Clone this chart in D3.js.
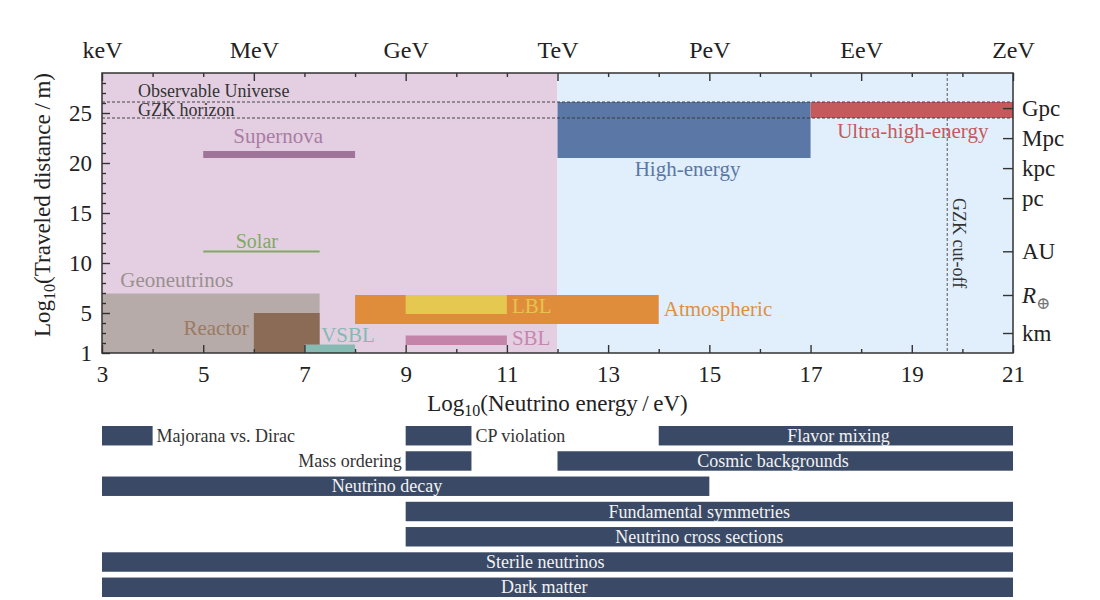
<!DOCTYPE html>
<html>
<head>
<meta charset="utf-8">
<script src="https://cdn.jsdelivr.net/npm/d3@7"></script>
<style>
  body { margin: 0; background: #fff; }
  svg text { font-family: "Liberation Serif", "DejaVu Serif", serif; }
</style>
</head>
<body>
<script>
// energy regions (log10 E/eV)
const bandEnergy = [[3, 12], [12, 21]];
const bandColor = ["#e4cfe2", "#e1effc"];

// neutrino sources: energy range (log10 eV) and distance range (log10 m)
const sourceNames = ["Geoneutrinos", "Reactor", "VSBL", "Supernova", "Atmospheric", "LBL", "SBL", "High-energy", "Ultra-high-energy"];
const sourceEmin = [3, 6, 7, 5, 8, 9, 9, 12, 17];
const sourceEmax = [7.3, 7.3, 8, 8, 14, 11, 11, 17, 21];
const sourceLmin = [1, 1, 1, 20.5, 3.9, 4.9, 1.8, 20.5, 24.5];
const sourceLmax = [6.95, 5, 1.85, 21.2, 6.8, 6.8, 2.75, 26.1, 26.1];
const sourceColor = ["#b6aba8", "#8c6b56", "#87bab3", "#9f7499", "#e08d3b", "#e5c84f", "#c484aa", "#5a77a6", "#c55a5c"];
const sourceTextColor = ["#9a8f8f", "#9b7a64", "#86b9b2", "#a97ca3", "#e08f3e", "#e6c34e", "#c687af", "#5a77a6", "#c55a5c"];
// label anchor in data units
const labelE = [3.36, 5.9, 7.33, 6.48, 14.1, 11.1, 11.1, 14.57, 19.02];
const labelL = [7.6, 2.8, 2.1, 22.0, 4.7, 5.0, 1.8, 18.7, 22.5];
const labelAnchor = ["start", "end", "start", "middle", "start", "start", "start", "middle", "middle"];

// solar line
const solarE = [5, 7.3];
const solarL = 11.15;

// reference distances
const refNames = ["Observable Universe", "GZK horizon"];
const refL = [26.1, 24.5];
const refLabelL = [26.6, 24.75];
const gzkCutoffE = 19.7;

// axes
const bottomMajor = [3, 5, 7, 9, 11, 13, 15, 17, 19, 21];
const bottomMinor = [4, 6, 8, 10, 12, 14, 16, 18, 20];
const topMajor = [3, 6, 9, 12, 15, 18, 21];
const topLabels = ["keV", "MeV", "GeV", "TeV", "PeV", "EeV", "ZeV"];
const topMinor = [4, 5, 7, 8, 10, 11, 13, 14, 16, 17, 19, 20];
const leftMajor = [1, 5, 10, 15, 20, 25];
const leftMinor = d3.range(2, 29).filter(v => !leftMajor.includes(v));
const rightTicks = [3, 6.8, 11.17, 16.49, 19.49, 22.49, 25.49];
const rightLabels = ["km", "R", "AU", "pc", "kpc", "Mpc", "Gpc"];

// science topics (bottom panel)
const topicNames = ["Majorana vs. Dirac", "CP violation", "Flavor mixing", "Mass ordering", "Cosmic backgrounds", "Neutrino decay", "Fundamental symmetries", "Neutrino cross sections", "Sterile neutrinos", "Dark matter"];
const topicRow = [0, 0, 0, 1, 1, 2, 3, 4, 5, 6];
const topicEmin = [3, 9, 14, 9, 12, 3, 9, 9, 3, 3];
const topicEmax = [4, 10.3, 21, 10.3, 21, 15, 21, 21, 21, 21];
const topicLabelSide = ["right", "right", "inside", "left", "inside", "inside", "inside", "inside", "inside", "inside"];
// centre of the label for labels inside the bars (log10 eV)
const topicLabelE = [null, null, 17.55, null, 16.26, 8.63, 14.8, 14.8, 11.76, 11.74];

const W = 1100, H = 600;
const svg = d3.select("body").append("svg").attr("width", W).attr("height", H);

const x = d3.scaleLinear().domain([3, 21]).range([102, 1013]);
const y = d3.scaleLinear().domain([1, 29]).range([353, 73]);

// backgrounds
svg.selectAll("rect.band")
  .data(bandEnergy)
  .enter()
  .append("rect")
  .attr("x", d => x(d[0]))
  .attr("width", d => x(d[1]) - x(d[0]))
  .attr("y", y(29))
  .attr("height", y(1) - y(29))
  .attr("fill", (d, i) => bandColor[i]);

// GZK cut-off
svg.append("line")
  .attr("x1", x(gzkCutoffE)).attr("x2", x(gzkCutoffE))
  .attr("y1", y(29)).attr("y2", y(1))
  .attr("stroke", "#444").attr("stroke-width", 0.9)
  .attr("stroke-dasharray", "3,2");

svg.append("text")
  .attr("transform", `translate(${x(gzkCutoffE) + 6}, ${y(16.5)}) rotate(90)`)
  .attr("font-size", 18)
  .attr("fill", "#333")
  .text("GZK cut-off");

// source boxes
svg.selectAll("rect.src")
  .data(sourceNames)
  .enter()
  .append("rect")
  .attr("x", (d, i) => x(sourceEmin[i]))
  .attr("width", (d, i) => x(sourceEmax[i]) - x(sourceEmin[i]))
  .attr("y", (d, i) => y(sourceLmax[i]))
  .attr("height", (d, i) => y(sourceLmin[i]) - y(sourceLmax[i]))
  .attr("fill", (d, i) => sourceColor[i]);

svg.append("line")
  .attr("x1", x(solarE[0])).attr("x2", x(solarE[1]))
  .attr("y1", y(solarL)).attr("y2", y(solarL))
  .attr("stroke", "#7eaa5f").attr("stroke-width", 2);

svg.append("text")
  .attr("x", x(6.06)).attr("y", y(11.5))
  .attr("text-anchor", "middle")
  .attr("font-size", 20)
  .attr("fill", "#7eaa5f")
  .text("Solar");

svg.selectAll("text.src")
  .data(sourceNames)
  .enter()
  .append("text")
  .attr("x", (d, i) => x(labelE[i]))
  .attr("y", (d, i) => y(labelL[i]))
  .attr("text-anchor", (d, i) => labelAnchor[i])
  .attr("font-size", 21)
  .attr("fill", (d, i) => sourceTextColor[i])
  .text(d => d);

// reference distances
svg.selectAll("line.ref")
  .data(refL)
  .enter()
  .append("line")
  .attr("x1", x(3)).attr("x2", x(21))
  .attr("y1", d => y(d)).attr("y2", d => y(d))
  .attr("stroke", "#333").attr("stroke-width", 0.9)
  .attr("stroke-dasharray", "3,2");

svg.selectAll("text.ref")
  .data(refNames)
  .enter()
  .append("text")
  .attr("x", x(3.71))
  .attr("y", (d, i) => y(refLabelL[i]))
  .attr("font-size", 18)
  .attr("fill", "#333")
  .text(d => d);

// axes
function styleAxis(g) {
  g.select(".domain").remove();
  g.selectAll(".tick line").attr("stroke", "#333").attr("stroke-width", 1.4);
  g.selectAll(".tick text").attr("fill", "#222").attr("font-family", "Liberation Serif, serif");
}

svg.append("g").attr("transform", `translate(0,${y(1)})`)
  .call(d3.axisBottom(x).tickValues(bottomMajor).tickSize(-8).tickPadding(13).tickFormat(d3.format("d")))
  .call(styleAxis)
  .selectAll("text").attr("font-size", 23);
svg.append("g").attr("transform", `translate(0,${y(1)})`)
  .call(d3.axisBottom(x).tickValues(bottomMinor).tickSize(-4).tickFormat(""))
  .call(styleAxis);

svg.append("g").attr("transform", `translate(0,${y(29)})`)
  .call(d3.axisTop(x).tickValues(topMajor).tickSize(-8).tickPadding(15).tickFormat((d, i) => topLabels[i]))
  .call(styleAxis)
  .selectAll("text").attr("font-size", 24);
svg.append("g").attr("transform", `translate(0,${y(29)})`)
  .call(d3.axisTop(x).tickValues(topMinor).tickSize(-4).tickFormat(""))
  .call(styleAxis);

svg.append("g").attr("transform", `translate(${x(3)},0)`)
  .call(d3.axisLeft(y).tickValues(leftMajor).tickSize(-8).tickPadding(10).tickFormat(d3.format("d")))
  .call(styleAxis)
  .selectAll("text").attr("font-size", 23);
svg.append("g").attr("transform", `translate(${x(3)},0)`)
  .call(d3.axisLeft(y).tickValues(leftMinor).tickSize(-4).tickFormat(""))
  .call(styleAxis);

const right = svg.append("g").attr("transform", `translate(${x(21)},0)`)
  .call(d3.axisRight(y).tickValues(rightTicks).tickSize(-10).tickPadding(9).tickFormat((d, i) => rightLabels[i]))
  .call(styleAxis);
right.selectAll("text").attr("font-size", 23);
right.selectAll(".tick text").filter(d => d === 6.8)
  .text(null)
  .call(t => {
    t.append("tspan").attr("font-style", "italic").text("R");
    t.append("tspan").attr("dy", 6).attr("font-size", 17).attr("fill", "#777").text("\u2295");
  });

// frame
svg.append("rect")
  .attr("x", x(3)).attr("y", y(29))
  .attr("width", x(21) - x(3)).attr("height", y(1) - y(29))
  .attr("fill", "none").attr("stroke", "#333").attr("stroke-width", 1.5);

// axis titles
const xt = svg.append("text")
  .attr("x", x(12)).attr("y", 411)
  .attr("text-anchor", "middle")
  .attr("font-size", 23)
  .attr("fill", "#222");
xt.append("tspan").text("Log");
xt.append("tspan").attr("font-size", 16).attr("dy", 5).text("10");
xt.append("tspan").attr("dy", -5).text("(Neutrino energy\u2009/\u2009eV)");

const yt = svg.append("text")
  .attr("transform", `translate(50, 205) rotate(-90)`)
  .attr("text-anchor", "middle")
  .attr("font-size", 23)
  .attr("fill", "#222");
yt.append("tspan").text("Log");
yt.append("tspan").attr("font-size", 16).attr("dy", 5).text("10");
yt.append("tspan").attr("dy", -5).text("(Traveled distance\u2009/\u2009m)");

// bottom panel
const row = d3.scaleBand().domain(d3.range(7)).range([426, 597]).paddingInner(0.23);

svg.selectAll("rect.topic")
  .data(topicNames)
  .enter()
  .append("rect")
  .attr("x", (d, i) => x(topicEmin[i]))
  .attr("width", (d, i) => x(topicEmax[i]) - x(topicEmin[i]))
  .attr("y", (d, i) => row(topicRow[i]))
  .attr("height", row.bandwidth())
  .attr("fill", "#3a4a66");

svg.selectAll("text.topic")
  .data(topicNames)
  .enter()
  .append("text")
  .attr("x", (d, i) => {
    const s = topicLabelSide[i];
    if (s === "right") return x(topicEmax[i]) + 4;
    if (s === "left") return x(topicEmin[i]) - 4;
    return x(topicLabelE[i]);
  })
  .attr("y", (d, i) => row(topicRow[i]) + row.bandwidth() / 2)
  .attr("dy", "0.34em")
  .attr("text-anchor", (d, i) => topicLabelSide[i] === "right" ? "start" : topicLabelSide[i] === "left" ? "end" : "middle")
  .attr("font-size", 18)
  .attr("fill", (d, i) => topicLabelSide[i] === "inside" ? "#f2f2f2" : "#333")
  .text(d => d);
</script>
</body>
</html>
